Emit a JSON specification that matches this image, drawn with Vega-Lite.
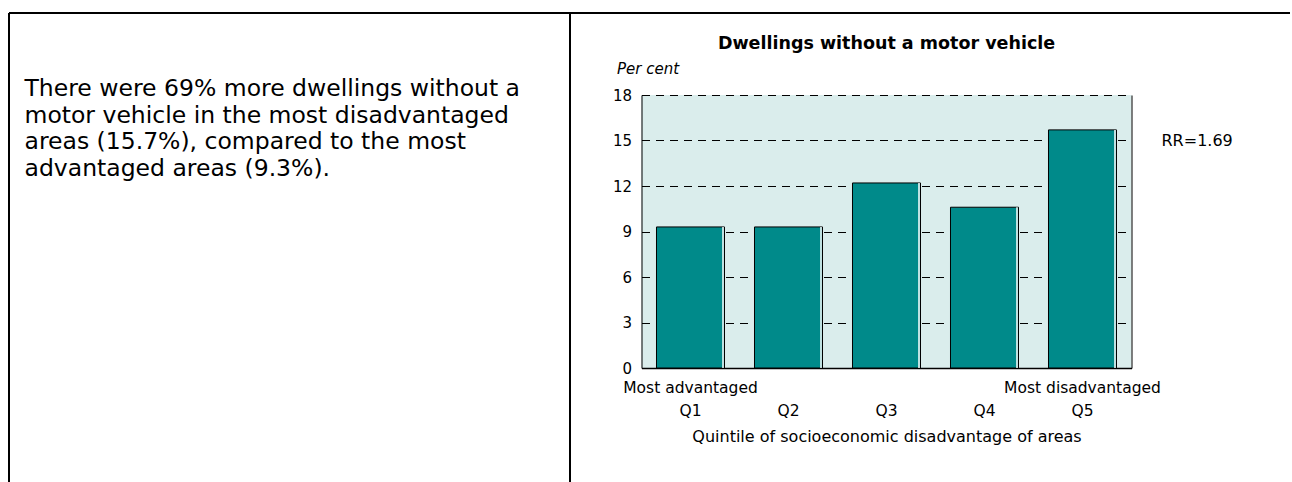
{
  "$schema": "https://vega.github.io/schema/vega-lite/v6.json",
  "autosize": {"type": "pad"},
  "padding": {"left": 8.5, "top": 6.5, "right": 0, "bottom": 0},
  "background": "white",
  "config": {
    "font": "DejaVu Sans",
    "view": {"stroke": null},
    "axis": {"labelColor": "black", "titleColor": "black"}
  },
  "bounds": "flush",
  "spacing": 0,
  "hconcat": [
    {
      "width": 561,
      "height": 473,
      "data": {"values": [
        {"line": 1, "text": "There were 69% more dwellings without a"},
        {"line": 2, "text": "motor vehicle in the most disadvantaged"},
        {"line": 3, "text": "areas (15.7%), compared to the most"},
        {"line": 4, "text": "advantaged areas (9.3%)."}
      ]},
      "layer": [
        {
          "mark": {"type": "text", "align": "left", "baseline": "alphabetic", "fontSize": 23.5, "color": "black"},
          "encoding": {
            "x": {"datum": 0, "type": "quantitative", "scale": {"domain": [-16, 545], "nice": false, "zero": false},
                  "axis": {"orient": "top", "domain": true, "domainColor": "black", "domainWidth": 2, "labels": false, "ticks": false, "grid": false, "title": null}},
            "y": {"field": "line", "type": "quantitative", "scale": {"domain": [-2.151, 15.698], "nice": false, "zero": false, "reverse": true},
                  "axis": {"orient": "left", "domain": true, "domainColor": "black", "domainWidth": 2, "labels": false, "ticks": false, "grid": false, "title": null}},
            "text": {"field": "text"}
          }
        },
        {
          "mark": {"type": "text", "opacity": 0},
          "encoding": {
            "y": {"field": "line", "type": "quantitative",
                  "axis": {"orient": "right", "domain": true, "domainColor": "black", "domainWidth": 2, "labels": false, "ticks": false, "grid": false, "title": null}},
            "text": {"field": "text"}
          }
        }
      ],
      "resolve": {"axis": {"y": "independent"}}
    },
    {
      "bounds": "flush",
      "spacing": 81.5,
      "vconcat": [
        {
          "width": 720,
          "height": 1,
          "data": {"values": [{}]},
          "mark": {"type": "text", "text": ""},
          "encoding": {
            "x": {"datum": 0, "type": "quantitative",
                  "axis": {"orient": "top", "domain": true, "domainColor": "black", "domainWidth": 2, "labels": false, "ticks": false, "grid": false, "title": null}}
          }
        },
        {
          "bounds": "flush",
          "spacing": 71,
          "hconcat": [
            {
              "width": 1,
              "height": 1,
              "data": {"values": []},
              "mark": "point"
            },
            {
              "width": 490,
              "height": 273,
              "view": {"fill": "#daedec", "stroke": null},
              "title": {"text": "Dwellings without a motor vehicle", "fontSize": 17.5, "fontWeight": "bold", "anchor": "middle", "offset": 9, "color": "black"},
              "data": {"values": [
                {"quintile": "Q1", "percent": 9.3},
                {"quintile": "Q2", "percent": 9.3},
                {"quintile": "Q3", "percent": 12.2},
                {"quintile": "Q4", "percent": 10.6},
                {"quintile": "Q5", "percent": 15.7}
              ]},
              "layer": [
                {
                  "mark": {"type": "bar", "color": "#008a8a", "stroke": "black", "strokeWidth": 1},
                  "encoding": {
                    "x": {"field": "quintile", "type": "nominal",
                          "scale": {"paddingInner": 0.306, "paddingOuter": 0.153},
                          "axis": {"orient": "bottom", "labelAngle": 0, "ticks": false, "domain": true, "domainColor": "black", "domainWidth": 1.5, "grid": false,
                                   "labelFontSize": 15.5, "labelLineHeight": 23, "labelPadding": 12, "labelBaseline": "top", "labelOverlap": false,
                                   "labelExpr": "datum.value == 'Q1' ? ['Most advantaged', 'Q1'] : datum.value == 'Q5' ? ['Most disadvantaged', 'Q5'] : ['', datum.value]",
                                   "title": "Quintile of socioeconomic disadvantage of areas", "titleFontSize": 16, "titleFontWeight": "normal", "titlePadding": 10}},
                    "y": {"field": "percent", "type": "quantitative",
                          "scale": {"domain": [0, 18], "nice": false},
                          "axis": {"orient": "left", "values": [0, 3, 6, 9, 12, 15, 18], "grid": true, "gridColor": "black", "gridDash": [8, 6], "gridWidth": 1, "gridOpacity": 1,
                                   "ticks": false, "domain": true, "domainColor": "black", "domainWidth": 1, "labelFontSize": 15, "labelPadding": 10,
                                   "title": "Per cent", "titleAngle": 0, "titleAlign": "left", "titleBaseline": "alphabetic", "titleX": -25, "titleY": -22,
                                   "titleFontStyle": "italic", "titleFontWeight": "normal", "titleFontSize": 15}}
                  }
                },
                {
                  "mark": {"type": "rule", "color": "white", "strokeWidth": 1.5, "xOffset": -1.5},
                  "encoding": {
                    "x": {"field": "quintile", "type": "nominal", "bandPosition": 1},
                    "y": {"field": "percent", "type": "quantitative", "axis": null},
                    "y2": {"datum": 0}
                  }
                },
                {
                  "data": {"values": [{"label": "RR=1.69"}]},
                  "mark": {"type": "text", "align": "left", "baseline": "middle", "dx": 79, "fontSize": 16, "color": "black"},
                  "encoding": {
                    "x": {"datum": "Q5", "type": "nominal"},
                    "y": {"datum": 15, "type": "quantitative", "scale": {"domain": [0, 18], "nice": false},
                          "axis": {"orient": "right", "domain": true, "domainColor": "black", "domainWidth": 1, "labels": false, "ticks": false, "grid": false, "title": null}},
                    "text": {"field": "label"}
                  }
                }
              ],
              "resolve": {"axis": {"y": "independent"}}
            }
          ]
        }
      ]
    }
  ]
}
